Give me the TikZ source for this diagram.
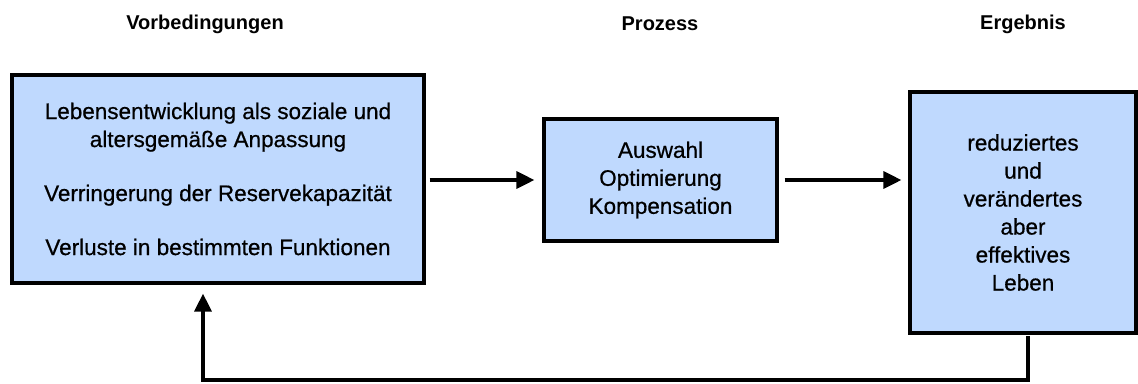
\documentclass[tikz,border=0pt]{standalone}
\usepackage{fontspec}
\setmainfont{Liberation Sans}
\newfontfamily\bodyfont{Liberation Sans}[BoldFont={Liberation Sans},BoldFeatures={FakeBold=0.6}]
\usetikzlibrary{arrows.meta}
\definecolor{boxblue}{HTML}{BFD9FE}
\tikzset{
  box/.style={draw=black, line width=3.2pt, fill=boxblue, align=center, inner sep=0pt,
    font=\bodyfont\bfseries\fontsize{22.5}{28}\selectfont},
  head/.style={font=\fontsize{20}{24}\selectfont\bfseries, inner sep=0pt},
  arr/.style={line width=3.2pt, -{Triangle[length=18pt,width=17pt]}},
}
\begin{document}
\begin{tikzpicture}[x=1pt,y=-1pt]
\useasboundingbox (0,0) rectangle (1138,383);
\node[head] (h1) at (205,24) {Vorbedingungen};
\node[head] (h2) at (660,24) {Prozess};
\node[head] (h3) at (1023,24) {Ergebnis};
\node[box, minimum width=412pt, minimum height=208pt] (left) at (218,179)
  {Lebensentwicklung als soziale und\\altersgemäße Anpassung\\[26pt]Verringerung der Reservekapazität\\[26pt]Verluste in bestimmten Funktionen};
\node[box, minimum width=233pt, minimum height=122pt] (mid) at (660.5,180)
  {Auswahl\\Optimierung\\Kompensation};
\node[box, minimum width=226pt, minimum height=241pt] (right) at (1023,212.5)
  {reduziertes\\und\\verändertes\\aber\\effektives\\Leben};
\coordinate (fb) at (203,380);
\draw[arr] ([xshift=4pt]left.east |- mid.west) -- ([xshift=-8pt]mid.west);
\draw[arr] ([xshift=6pt]mid.east) -- ([xshift=-7pt]right.west |- mid.east);
\draw[arr] ([xshift=5pt,yshift=-1.6pt]right.south) |- (fb) -- ([xshift=-15pt,yshift=-9pt]left.south);
\end{tikzpicture}
\end{document}
